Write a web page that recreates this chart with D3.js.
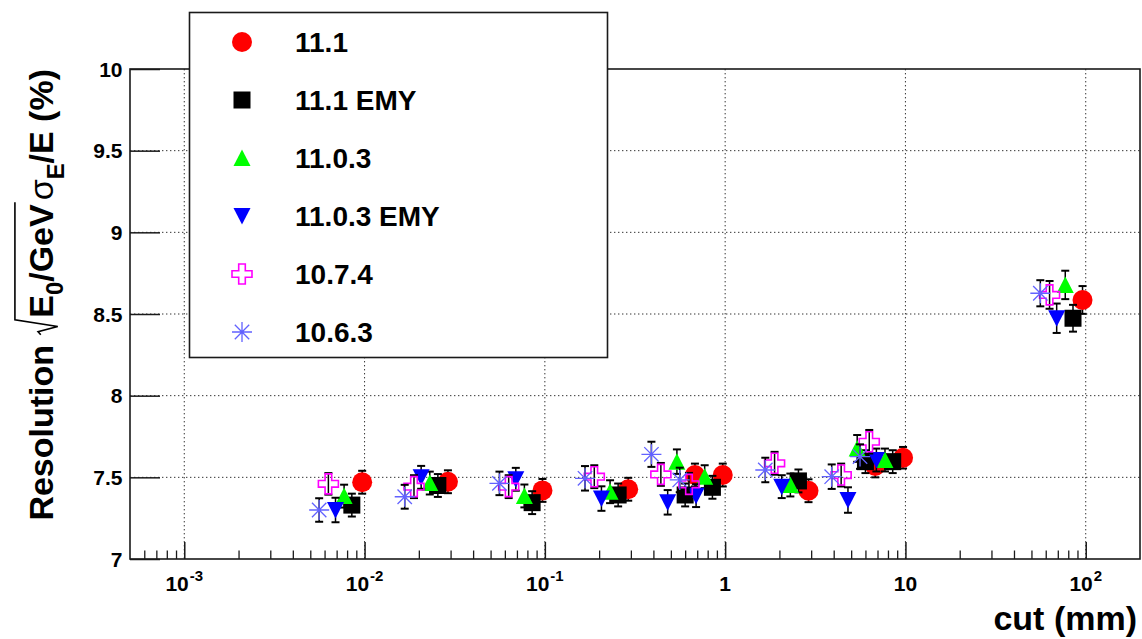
<!DOCTYPE html>
<html><head><meta charset="utf-8">
<script src="https://cdn.jsdelivr.net/npm/d3@7"></script>
<style>body{margin:0;background:#fff} svg{display:block} text{font-family:"Liberation Sans",Arial,Helvetica,sans-serif;font-weight:bold;fill:#000}</style>
</head><body>
<svg id="c" width="1142" height="639"></svg>
<script>
// ---------------- data ----------------
const seriesNames = ["11.1", "11.1 EMY", "11.0.3", "11.0.3 EMY", "10.7.4", "10.6.3"];

const x_11_1   = [0.0097, 0.029, 0.097, 0.29, 0.68, 0.97, 2.9, 6.8, 9.7, 96];
const y_11_1   = [7.47, 7.473, 7.42, 7.427, 7.514, 7.514, 7.418, 7.57, 7.62, 8.586];
const e_11_1   = [0.07, 0.07, 0.07, 0.07, 0.07, 0.07, 0.07, 0.07, 0.066, 0.085];

const x_11_1E  = [0.0085, 0.0255, 0.085, 0.255, 0.6, 0.85, 2.55, 6.0, 8.5, 85];
const y_11_1E  = [7.33, 7.45, 7.345, 7.392, 7.392, 7.439, 7.478, 7.596, 7.596, 8.474];
const e_11_1E  = [0.07, 0.07, 0.07, 0.07, 0.07, 0.07, 0.07, 0.07, 0.07, 0.082];

const x_11_03  = [0.0077, 0.023, 0.077, 0.23, 0.54, 0.77, 2.3, 5.4, 7.7, 77];
const y_11_03  = [7.385, 7.465, 7.386, 7.412, 7.596, 7.504, 7.453, 7.677, 7.606, 8.678];
const e_11_03  = [0.07, 0.07, 0.07, 0.07, 0.075, 0.07, 0.07, 0.082, 0.07, 0.087];

const x_11_03E = [0.0069, 0.0206, 0.069, 0.206, 0.48, 0.69, 2.06, 4.8, 6.9, 69];
const y_11_03E = [7.30, 7.50, 7.488, 7.37, 7.347, 7.388, 7.443, 7.361, 7.606, 8.474];
const e_11_03E = [0.075, 0.07, 0.07, 0.075, 0.075, 0.07, 0.07, 0.078, 0.07, 0.09];

const x_10_74  = [0.0063, 0.0188, 0.063, 0.188, 0.44, 0.63, 1.88, 4.4, 6.3, 63];
const y_10_74  = [7.46, 7.443, 7.443, 7.504, 7.518, 7.457, 7.586, 7.514, 7.718, 8.617];
const e_10_74  = [0.066, 0.07, 0.07, 0.07, 0.07, 0.07, 0.07, 0.07, 0.072, 0.085];

const x_10_63  = [0.0056, 0.0167, 0.056, 0.167, 0.39, 0.56, 1.67, 3.9, 5.6, 56];
const y_10_63  = [7.30, 7.381, 7.463, 7.494, 7.641, 7.484, 7.545, 7.504, 7.627, 8.627];
const e_10_63  = [0.072, 0.073, 0.072, 0.075, 0.077, 0.075, 0.075, 0.075, 0.075, 0.08];

const yTickValues = [7, 7.5, 8, 8.5, 9, 9.5, 10];
const yTickLabels = ["7", "7.5", "8", "8.5", "9", "9.5", "10"];
const xTickValues = [0.001, 0.01, 0.1, 1, 10, 100];
const xTickBase   = ["10", "10", "10", "1", "10", "10"];
const xTickExp    = ["-3", "-2", "-1", "", "", "2"];
const xMinorValues = [];
[1e-4, 1e-3, 1e-2, 1e-1, 1, 10, 100].forEach(d => { for (let k = 2; k <= 9; k++) xMinorValues.push(d * k); });

// ---------------- styles ----------------
const markerTypes  = ["circle", "square", "triUp", "triDown", "cross", "star"];
const markerColors = ["#ff0000", "#000000", "#00ff00", "#0000ff", "#ff00ff", "#6262ff"];

const series = [
  {x: x_11_1,   y: y_11_1,   e: e_11_1},
  {x: x_11_1E,  y: y_11_1E,  e: e_11_1E},
  {x: x_11_03,  y: y_11_03,  e: e_11_03},
  {x: x_11_03E, y: y_11_03E, e: e_11_03E},
  {x: x_10_74,  y: y_10_74,  e: e_10_74},
  {x: x_10_63,  y: y_10_63,  e: e_10_63}
].map((s, i) => ({name: seriesNames[i], type: markerTypes[i], color: markerColors[i],
                  pts: s.x.map((v, j) => ({x: v, y: s.y[j], e: s.e[j]}))}));

// ---------------- layout ----------------
const svg = d3.select("#c");
const L = 130, R = 1140, T = 69, B = 559;
const x = d3.scaleLog().domain([5e-4, 200]).range([L, R]);
const y = d3.scaleLinear().domain([7, 10]).range([B, T]);
const frameColor = "#1a1a1a";

// grid
const grid = svg.append("g").attr("stroke", "#333").attr("stroke-width", 1).attr("stroke-dasharray", "1.4,2.6");
xTickValues.forEach(v => grid.append("line").attr("x1", x(v)).attr("x2", x(v)).attr("y1", T).attr("y2", B));
yTickValues.filter(v => v > 7 && v < 10).forEach(v => grid.append("line").attr("x1", L).attr("x2", R).attr("y1", y(v)).attr("y2", y(v)));

// x axis
const xAxis = d3.axisBottom(x).tickValues(xTickValues).tickSizeInner(-17).tickSizeOuter(0).tickFormat("");
const gx = svg.append("g").attr("transform", `translate(0,${B})`).call(xAxis);
gx.select(".domain").remove();
gx.selectAll(".tick line").attr("stroke", frameColor).attr("stroke-width", 1.5);
const xMinor = d3.axisBottom(x).tickValues(xMinorValues.filter(v => v > 5e-4 && v < 200)).tickSizeInner(-8.5).tickSizeOuter(0).tickFormat("");
const gxm = svg.append("g").attr("transform", `translate(0,${B})`).call(xMinor);
gxm.select(".domain").remove();
gxm.selectAll(".tick line").attr("stroke", frameColor).attr("stroke-width", 1.3);

const xl = svg.append("g");
xTickValues.forEach((v, i) => {
  const t = xl.append("text").attr("x", x(v)).attr("y", 591).attr("text-anchor", "middle").attr("font-size", 21);
  t.append("tspan").text(xTickBase[i]);
  if (xTickExp[i]) t.append("tspan").attr("font-size", 15).attr("dy", -10).attr("dx", 1).text(xTickExp[i]);
});

// y axis
const yAxis = d3.axisLeft(y).tickValues(yTickValues).tickSizeInner(-30).tickSizeOuter(0).tickFormat("");
const gy = svg.append("g").attr("transform", `translate(${L},0)`).call(yAxis);
gy.select(".domain").remove();
gy.selectAll(".tick line").attr("stroke", frameColor).attr("stroke-width", 1.5);
yTickValues.forEach((v, i) => {
  svg.append("text").attr("x", 122.5).attr("y", y(v)).attr("dy", "0.36em").attr("text-anchor", "end")
     .attr("font-size", 21).text(yTickLabels[i]);
});

// frame
svg.append("rect").attr("x", L).attr("y", T).attr("width", R - L).attr("height", B - T)
   .attr("fill", "none").attr("stroke", frameColor).attr("stroke-width", 1.6);

// markers
function drawMarker(g, type, color, cx, cy) {
  const m = g.append("g").attr("transform", `translate(${cx},${cy})`);
  if (type === "circle") m.append("circle").attr("r", 10).attr("fill", color);
  else if (type === "square") m.append("rect").attr("x", -8.5).attr("y", -8.5).attr("width", 17).attr("height", 17).attr("fill", color);
  else if (type === "triUp") m.append("path").attr("d", "M-8.5,8L8.5,8L0,-8.5Z").attr("fill", color);
  else if (type === "triDown") m.append("path").attr("d", "M-8.5,-8L8.5,-8L0,8.5Z").attr("fill", color);
  else if (type === "cross") {
    const a = 3.3, b = 10;
    m.append("path").attr("d", `M${-a},${-b}L${a},${-b}L${a},${-a}L${b},${-a}L${b},${a}L${a},${a}L${a},${b}L${-a},${b}L${-a},${a}L${-b},${a}L${-b},${-a}L${-a},${-a}Z`)
     .attr("fill", "none").attr("stroke", color).attr("stroke-width", 1.6);
  } else if (type === "star") {
    const b = 10, d = 7.2;
    m.append("path").attr("d", `M${-b},0L${b},0M0,${-b}L0,${b}M${-d},${-d}L${d},${d}M${-d},${d}L${d},${-d}`)
     .attr("fill", "none").attr("stroke", color).attr("stroke-width", 1.3);
  }
}

const plot = svg.append("g");
series.forEach(s => {
  const g = plot.append("g");
  s.pts.forEach(p => {
    const px = x(p.x), y1 = y(p.y - p.e), y2 = y(p.y + p.e);
    g.append("line").attr("x1", px).attr("x2", px).attr("y1", y1).attr("y2", y2).attr("stroke", "#000").attr("stroke-width", 1.5);
    g.append("line").attr("x1", px - 4).attr("x2", px + 4).attr("y1", y1).attr("y2", y1).attr("stroke", "#000").attr("stroke-width", 2);
    g.append("line").attr("x1", px - 4).attr("x2", px + 4).attr("y1", y2).attr("y2", y2).attr("stroke", "#000").attr("stroke-width", 2);
  });
  s.pts.forEach(p => drawMarker(g, s.type, s.color, x(p.x), y(p.y)));
});

// legend
const lg = svg.append("g");
lg.append("rect").attr("x", 189.5).attr("y", 12.5).attr("width", 418).attr("height", 345)
  .attr("fill", "#fff").attr("stroke", frameColor).attr("stroke-width", 1.6);
series.forEach((s, i) => {
  const cy = 42 + i * 58;
  drawMarker(lg, s.type, s.color, 242, cy);
  lg.append("text").attr("x", 295).attr("y", cy).attr("dy", "0.36em").attr("font-size", 28).text(s.name);
});

// x title
svg.append("text").attr("x", 1137).attr("y", 630).attr("text-anchor", "end").attr("font-size", 34).text("cut (mm)");

// y title with radical
const f = 34;
const gT = svg.append("g");
let cx = 0;
function addText(str, size, dy, weight) {
  const t = gT.append("text").attr("x", cx).attr("y", dy).attr("font-size", size).text(str);
  if (weight) t.style("font-weight", weight);
  cx += t.node().getComputedTextLength();
  return t;
}
addText("Resolution", f, 0);
cx += f * 0.3;
const xr = cx;
cx += f * 0.5;
addText("E", f, 0);
addText("0", f * 0.7, f * 0.3);
addText("/GeV", f, 0);
const xEnd = cx + 2;
gT.append("path")
  .attr("d", `M${xr},${-0.36 * f}L${xr + 0.09 * f},${-0.44 * f}L${xr + 0.24 * f},${0.14 * f}L${xr + 0.44 * f},${-1.12 * f}L${xEnd},${-1.12 * f}`)
  .attr("fill", "none").attr("stroke", "#000").attr("stroke-width", 1.6);
cx += 4;
addText("σ", f, 0, "normal");
addText("E", f * 0.7, f * 0.32);
addText("/E (%)", f, 0);
const W = cx;
gT.attr("transform", `translate(53,${69 + W}) rotate(-90)`);
</script></body></html>
